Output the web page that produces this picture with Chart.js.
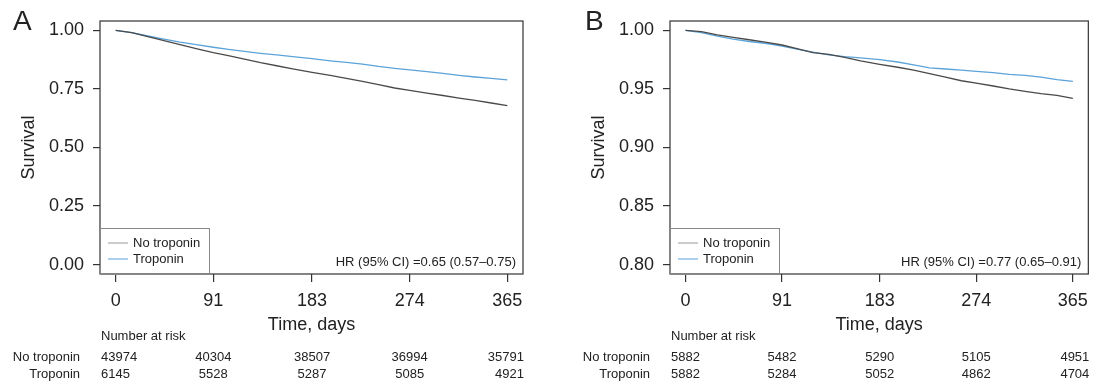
<!DOCTYPE html>
<html>
<head>
<meta charset="utf-8">
<script src="https://cdn.jsdelivr.net/npm/chart.js@4.4.0/dist/chart.umd.min.js"></script>
<style>
html, body { margin: 0; padding: 0; background: #fff; }
#wrap { position: relative; width: 1096px; height: 384px; }
.panel { position: absolute; top: 0; width: 548px; height: 384px; }
</style>
</head>
<body>
<div id="wrap">
  <div class="panel" style="left:0"><canvas id="chartA" width="548" height="384"></canvas></div>
  <div class="panel" style="left:548px"><canvas id="chartB" width="548" height="384"></canvas></div>
</div>
<script>
// survival, days since index
const days = [0, 15, 30, 45, 60, 75, 91, 105, 120, 135, 150, 165, 183, 200, 215, 230, 245, 260, 274, 290, 305, 320, 335, 350, 365];

const noTropA = [1.000, 0.990, 0.973, 0.956, 0.939, 0.922, 0.905, 0.892, 0.877, 0.862, 0.849, 0.836, 0.821, 0.808, 0.795, 0.782, 0.768, 0.754, 0.744, 0.732, 0.722, 0.711, 0.701, 0.690, 0.679];
const tropA   = [1.000, 0.990, 0.976, 0.963, 0.950, 0.939, 0.928, 0.919, 0.910, 0.902, 0.895, 0.888, 0.879, 0.870, 0.863, 0.856, 0.846, 0.838, 0.831, 0.824, 0.816, 0.808, 0.801, 0.795, 0.789];

const noTropB = [1.000, 0.999, 0.9962, 0.994, 0.992, 0.990, 0.9875, 0.9845, 0.981, 0.9795, 0.977, 0.974, 0.971, 0.9685, 0.966, 0.963, 0.960, 0.957, 0.955, 0.9525, 0.950, 0.948, 0.946, 0.9445, 0.942];
const tropB   = [1.000, 0.998, 0.995, 0.9925, 0.9905, 0.989, 0.9865, 0.984, 0.9815, 0.979, 0.9775, 0.9765, 0.975, 0.973, 0.9705, 0.968, 0.967, 0.966, 0.965, 0.964, 0.9625, 0.9615, 0.960, 0.958, 0.9565];

const xTicks = [0, 91, 183, 274, 365];
const yTicksA = [0, 0.25, 0.5, 0.75, 1];
const yTicksB = [0.8, 0.85, 0.9, 0.95, 1];

const riskNoTropA = [43974, 40304, 38507, 36994, 35791];
const riskTropA   = [6145, 5528, 5287, 5085, 4921];
const riskNoTropB = [5882, 5482, 5290, 5105, 4951];
const riskTropB   = [5882, 5284, 5052, 4862, 4704];

const FONT = '"Liberation Sans", Arial, Helvetica, sans-serif';
const TXT = '#222';
const GREY = '#4a4a4a';
const BLUE = '#5ba3d9';

function toPoints(ys) {
  return days.map((d, i) => ({ x: d, y: ys[i] }));
}

// box, legend, HR text, panel letter and the risk table
const kmExtras = {
  id: 'kmExtras',
  afterDatasetsDraw(chart, args, opts) {
    const { ctx, chartArea: a, scales: { x } } = chart;
    ctx.save();

    ctx.strokeStyle = '#333';
    ctx.lineWidth = 1.2;
    ctx.strokeRect(a.left, a.top, a.right - a.left, a.bottom - a.top);

    // legend box
    const lx = a.left, lw = 109, lh = 46, ly = a.bottom - lh;
    ctx.fillStyle = '#fff';
    ctx.fillRect(lx + 1, ly, lw - 1, lh - 1);
    ctx.strokeStyle = '#888';
    ctx.lineWidth = 1;
    ctx.strokeRect(lx + 0.5, ly + 0.5, lw, lh);
    const legColors = ['#999', BLUE];
    ctx.font = '13px ' + FONT;
    ctx.textBaseline = 'middle';
    ctx.textAlign = 'left';
    chart.data.datasets.forEach((ds, i) => {
      const yy = ly + 15 + i * 16;
      ctx.strokeStyle = legColors[i];
      ctx.beginPath();
      ctx.moveTo(lx + 8, yy);
      ctx.lineTo(lx + 28, yy);
      ctx.stroke();
      ctx.fillStyle = TXT;
      ctx.fillText(ds.label, lx + 33, yy);
    });

    // hazard ratio
    ctx.textAlign = 'right';
    ctx.fillText(opts.hr, a.right - 7, a.bottom - 12);

    // panel letter
    ctx.font = '28px ' + FONT;
    ctx.textAlign = 'left';
    ctx.textBaseline = 'alphabetic';
    ctx.fillText(opts.letter, opts.letterX, 30);

    // number at risk
    ctx.font = '13px ' + FONT;
    ctx.textBaseline = 'middle';
    ctx.fillText('Number at risk', a.left + 1, 336);
    const rows = [['No troponin', opts.riskNo, 357], ['Troponin', opts.riskTrop, 374]];
    rows.forEach(([name, vals, yy]) => {
      ctx.textAlign = 'right';
      ctx.fillText(name, a.left - 20, yy);
      vals.forEach((v, i) => {
        let px = x.getPixelForValue(xTicks[i]);
        if (i === 0) { ctx.textAlign = 'left'; px = a.left + 1; }
        else if (i === vals.length - 1) { ctx.textAlign = 'right'; px = a.right + 1; }
        else ctx.textAlign = 'center';
        ctx.fillText(String(v), px, yy);
      });
    });
    ctx.restore();
  }
};

function makeChart(id, noTrop, trop, yTicks, yMin, yMax, cfg) {
  return new Chart(document.getElementById(id), {
    type: 'line',
    data: {
      datasets: [
        { label: 'No troponin', data: toPoints(noTrop), borderColor: GREY, borderWidth: 1.3, pointRadius: 0, tension: 0 },
        { label: 'Troponin', data: toPoints(trop), borderColor: BLUE, borderWidth: 1.3, pointRadius: 0, tension: 0 }
      ]
    },
    options: {
      responsive: false,
      animation: false,
      layout: { padding: { top: 21, right: cfg.padRight, left: 0, bottom: 0 } },
      plugins: {
        legend: { display: false },
        tooltip: { enabled: false },
        kmExtras: cfg
      },
      scales: {
        x: {
          type: 'linear',
          min: -14.6,
          max: 379.6,
          afterBuildTicks: s => { s.ticks = xTicks.map(v => ({ value: v })); },
          afterFit: s => { s.height = 110; },
          border: { display: false },
          grid: { drawOnChartArea: false, drawTicks: true, tickLength: 8, color: '#333', lineWidth: 1.2 },
          ticks: { color: TXT, font: { family: FONT, size: 18 }, padding: 8, maxRotation: 0 },
          title: { display: true, text: 'Time, days', color: TXT, font: { family: FONT, size: 18 }, padding: { top: 0, bottom: 48 } }
        },
        y: {
          min: yMin,
          max: yMax,
          afterBuildTicks: s => { s.ticks = yTicks.map(v => ({ value: v })); },
          afterFit: s => { s.width = cfg.yWidth; },
          border: { display: false },
          grid: { drawOnChartArea: false, drawTicks: true, tickLength: 7, color: '#333', lineWidth: 1.2 },
          ticks: { color: TXT, font: { family: FONT, size: 18 }, padding: 9, callback: v => Number(v).toFixed(2) },
          title: { display: true, text: 'Survival', color: TXT, font: { family: FONT, size: 18 }, padding: { top: cfg.titlePad, bottom: 0 } }
        }
      }
    },
    plugins: [kmExtras]
  });
}

makeChart('chartA', noTropA, tropA, yTicksA, -0.04, 1.04, {
  letter: 'A', letterX: 13, hr: 'HR (95% CI) =0.65 (0.57\u20130.75)',
  riskNo: riskNoTropA, riskTrop: riskTropA, yWidth: 100, padRight: 25, titlePad: 18
});
makeChart('chartB', noTropB, tropB, yTicksB, 0.792, 1.008, {
  letter: 'B', letterX: 37, hr: 'HR (95% CI) =0.77 (0.65\u20130.91)',
  riskNo: riskNoTropB, riskTrop: riskTropB, yWidth: 122, padRight: 4, titlePad: 40
});
</script>
</body>
</html>
